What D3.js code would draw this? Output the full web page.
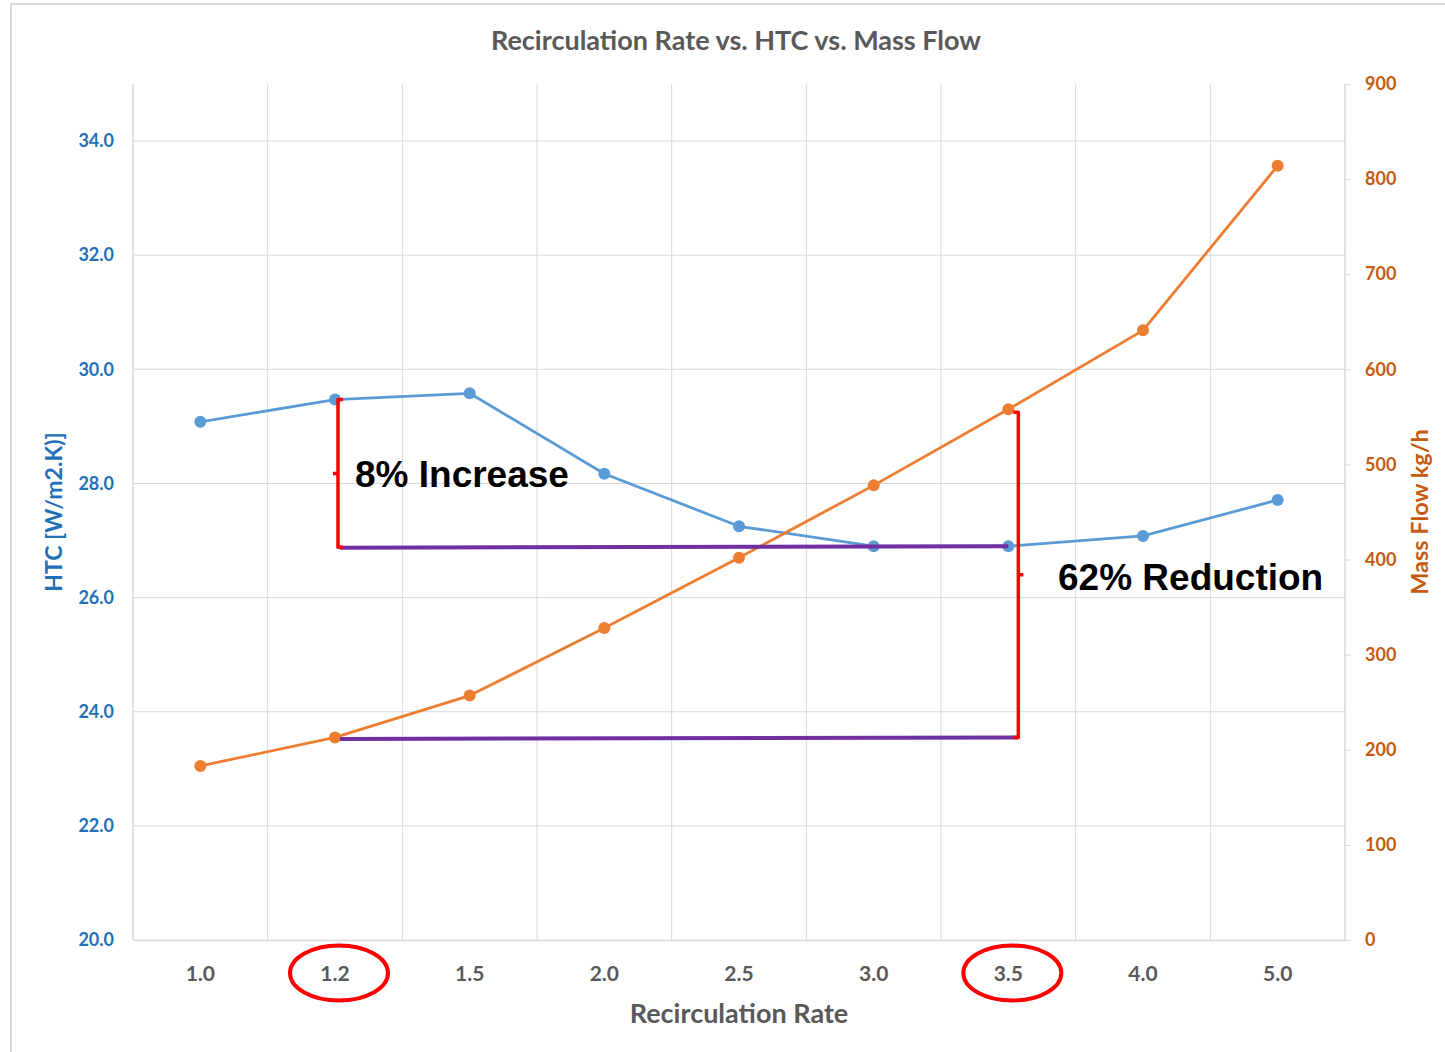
<!DOCTYPE html>
<html>
<head>
<meta charset="utf-8">
<script src="https://cdn.jsdelivr.net/npm/d3@7"></script>
<style>
  html, body { margin: 0; padding: 0; background: #fff; }
  svg { display: block; }
</style>
</head>
<body>
<svg id="chart" width="1445" height="1052"></svg>
<script>
// Recirculation rate categories and the two measured series
const rates = ["1.0", "1.2", "1.5", "2.0", "2.5", "3.0", "3.5", "4.0", "5.0"];
const htc = [29.08, 29.47, 29.58, 28.17, 27.25, 26.90, 26.90, 27.08, 27.71];
const massFlow = [183, 213, 257, 328, 402, 478, 558, 641, 814];
const htcTicks = [20, 22, 24, 26, 28, 30, 32, 34];
const flowTicks = [0, 100, 200, 300, 400, 500, 600, 700, 800, 900];

// Comparison points for the annotations
const baseRate = "1.2";
const compareRate = "3.5";
const notes = { increase: "8% Increase", reduction: "62% Reduction" };

const svg = d3.select("#chart");
const W = 1445, H = 1052;
const plot = { left: 133, right: 1345, top: 84, bottom: 940 };

const font = "Lato, 'Open Sans', sans-serif";
const blue = "#5B9BD5", orange = "#ED7D31";
const blueText = "#2270B8", orangeText = "#C55A11", grayText = "#595959";
const gridColor = "#d9d9d9";

// chart frame
svg.append("rect").attr("x", 11).attr("y", 4).attr("width", W + 10).attr("height", H + 10)
  .attr("fill", "#fff").attr("stroke", "#d9d9d9").attr("stroke-width", 2);

const x = d3.scaleBand().domain(rates).range([plot.left, plot.right]).padding(0);
const yL = d3.scaleLinear().domain([20, 35]).range([plot.bottom, plot.top]);
const yR = d3.scaleLinear().domain([0, 900]).range([plot.bottom, plot.top]);
const cx = r => x(r) + x.bandwidth() / 2;

// horizontal gridlines on the HTC ticks
svg.append("g").selectAll("line").data(htcTicks.filter(t => t > 20)).join("line")
  .attr("x1", plot.left).attr("x2", plot.right)
  .attr("y1", d => yL(d)).attr("y2", d => yL(d))
  .attr("stroke", gridColor).attr("stroke-width", 1);

// vertical gridlines on the category boundaries
svg.append("g").selectAll("line").data(rates.slice(1)).join("line")
  .attr("x1", d => x(d)).attr("x2", d => x(d))
  .attr("y1", plot.top).attr("y2", plot.bottom)
  .attr("stroke", gridColor).attr("stroke-width", 1);

// left axis
const gL = svg.append("g").attr("transform", `translate(${plot.left},0)`)
  .call(d3.axisLeft(yL).tickValues(htcTicks).tickFormat(d3.format(".1f")).tickSize(0).tickPadding(19));
gL.select(".domain").attr("stroke", gridColor).attr("stroke-width", 1.5).attr("d", `M0,${plot.top}V${plot.bottom}`);
gL.selectAll("text").attr("fill", blueText).attr("font-family", font).attr("font-weight", 700).attr("font-size", 18);

// right axis
const gR = svg.append("g").attr("transform", `translate(${plot.right},0)`)
  .call(d3.axisRight(yR).tickValues(flowTicks).tickSize(6).tickPadding(14));
gR.select(".domain").attr("stroke", gridColor).attr("stroke-width", 1.5).attr("d", `M0,${plot.top}V${plot.bottom}`);
gR.selectAll(".tick line").attr("stroke", gridColor);
gR.selectAll("text").attr("fill", orangeText).attr("font-family", font).attr("font-weight", 700).attr("font-size", 18);

// bottom axis
const gB = svg.append("g").attr("transform", `translate(0,${plot.bottom})`)
  .call(d3.axisBottom(x).tickSize(0).tickPadding(26));
gB.select(".domain").attr("stroke", gridColor).attr("stroke-width", 1.5);
gB.selectAll("text").attr("fill", grayText).attr("font-family", font).attr("font-weight", 700).attr("font-size", 21);

// titles
svg.append("text").attr("x", 736).attr("y", 50).attr("text-anchor", "middle")
  .attr("fill", grayText).attr("font-family", font).attr("font-weight", 700).attr("font-size", 27)
  .text("Recirculation Rate vs. HTC vs. Mass Flow");
svg.append("text").attr("x", 739).attr("y", 1023).attr("text-anchor", "middle")
  .attr("fill", grayText).attr("font-family", font).attr("font-weight", 700).attr("font-size", 27)
  .text("Recirculation Rate");
svg.append("text").attr("transform", "translate(62,512) rotate(-90)").attr("text-anchor", "middle")
  .attr("fill", blueText).attr("font-family", font).attr("font-weight", 700).attr("font-size", 23)
  .text("HTC [W/m2.K)]");
svg.append("text").attr("transform", "translate(1428,512) rotate(-90)").attr("text-anchor", "middle")
  .attr("fill", orangeText).attr("font-family", font).attr("font-weight", 700).attr("font-size", 23.5)
  .text("Mass Flow kg/h");

// series lines with markers
function series(values, y, color) {
  const pts = rates.map((r, i) => [cx(r), y(values[i])]);
  svg.append("path").attr("d", d3.line()(pts)).attr("fill", "none")
    .attr("stroke", color).attr("stroke-width", 2.8).attr("stroke-linejoin", "round");
  svg.append("g").selectAll("circle").data(pts).join("circle")
    .attr("cx", d => d[0]).attr("cy", d => d[1]).attr("r", 6).attr("fill", color);
}
series(htc, yL, blue);
series(massFlow, yR, orange);

// annotations: comparison guides between 1.2 and 3.5
const iB = rates.indexOf(baseRate), iC = rates.indexOf(compareRate);
const purple = "#7030A0", red = "#FF0000";
const bx1 = cx(baseRate) + 3;
const bx2 = cx(compareRate) + 10;

// purple baselines
svg.append("line").attr("x1", bx1 + 2).attr("x2", cx(compareRate))
  .attr("y1", yL(htc[iC]) + 1.5).attr("y2", yL(htc[iC]))
  .attr("stroke", purple).attr("stroke-width", 4);
svg.append("line").attr("x1", bx1 + 2).attr("x2", bx2)
  .attr("y1", yR(massFlow[iB]) + 1.5).attr("y2", yR(massFlow[iB]))
  .attr("stroke", purple).attr("stroke-width", 4);

// curly-style brackets
function bracket(xp, yTop, yBot, dir) {
  const mid = (yTop + yBot) / 2;
  const arm = 5 * dir;
  const p = `M${xp - arm},${yTop}H${xp}V${yBot}H${xp - arm}M${xp},${mid}h${arm}`;
  svg.append("path").attr("d", p).attr("fill", "none")
    .attr("stroke", red).attr("stroke-width", 3.5).attr("stroke-linejoin", "round");
}
bracket(bx1, yL(htc[iB]), yL(htc[iC]) + 1, -1);
bracket(bx2, yR(massFlow[iC]) + 3, yR(massFlow[iB]), 1);

svg.append("text").attr("x", 355).attr("y", 487)
  .attr("font-family", "'Liberation Sans', Arial, sans-serif").attr("font-weight", 700).attr("font-size", 37)
  .attr("fill", "#000").text(notes.increase);
svg.append("text").attr("x", 1058).attr("y", 590)
  .attr("font-family", "'Liberation Sans', Arial, sans-serif").attr("font-weight", 700).attr("font-size", 37)
  .attr("fill", "#000").text(notes.reduction);

// ovals around the compared category labels
[baseRate, compareRate].forEach(r => {
  svg.append("ellipse").attr("cx", cx(r) + 4).attr("cy", 973).attr("rx", 49).attr("ry", 27.5)
    .attr("fill", "none").attr("stroke", red).attr("stroke-width", 4);
});
</script>
</body>
</html>
